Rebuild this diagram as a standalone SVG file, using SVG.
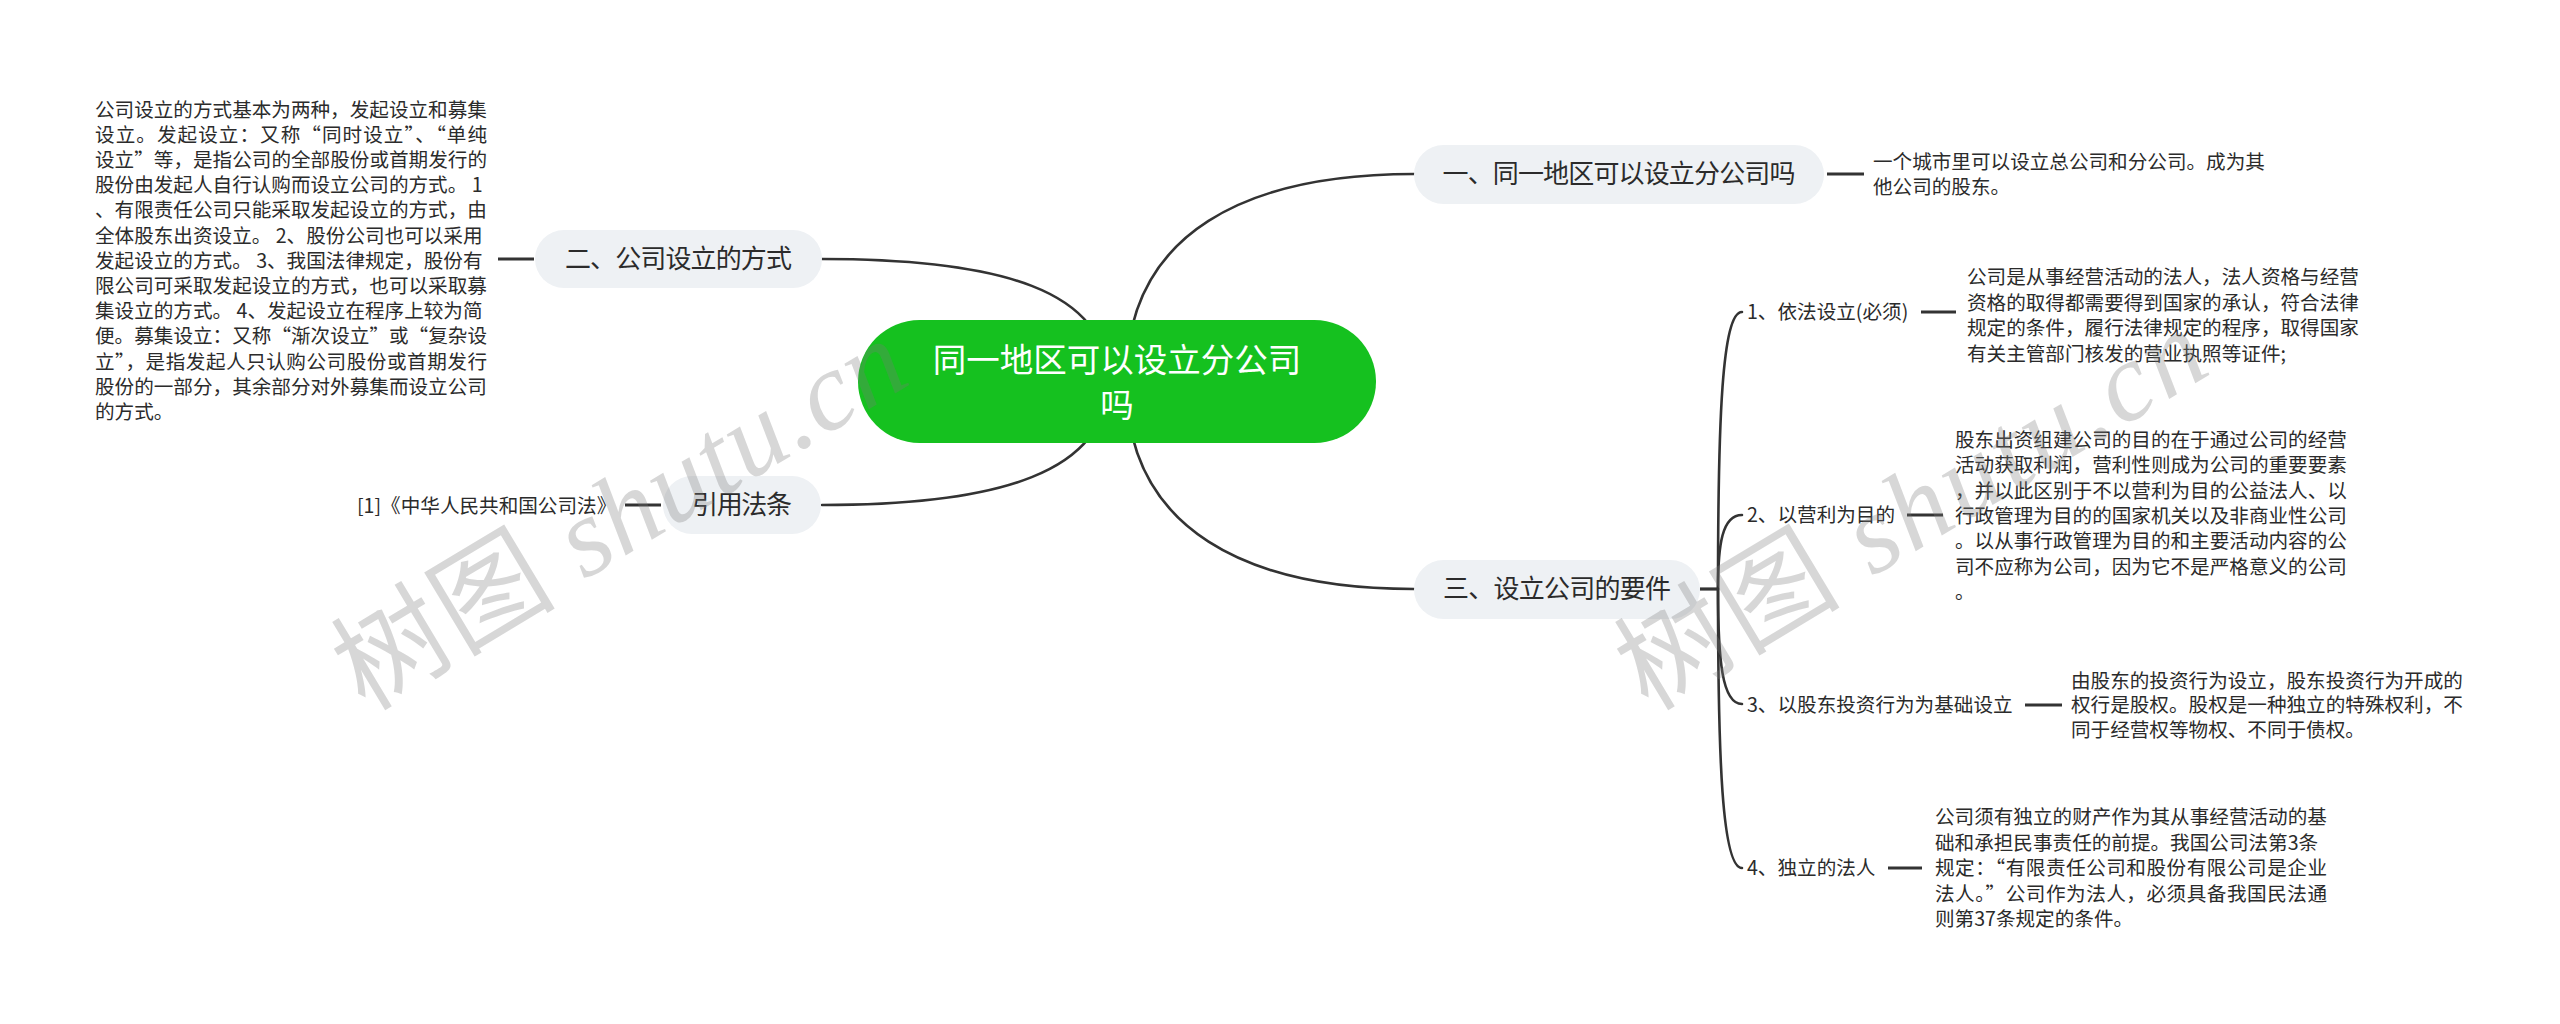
<svg xmlns="http://www.w3.org/2000/svg" width="2560" height="1024" viewBox="0 0 2560 1024">
<style>
.bg{fill:#ffffff}
.curve{fill:none;stroke:#333333;stroke-width:2.6;stroke-linecap:round}
.stub{fill:none;stroke:#333333;stroke-width:3.2}
.root{fill:#15c11f}
.rootText{font-family:"Noto Sans CJK SC","Noto Sans",sans-serif;font-size:33.5px;fill:#ffffff;text-anchor:middle}
.pill{fill:#eef1f4}
.l1{font-family:"Noto Sans CJK SC","Noto Sans",sans-serif;font-size:26px;fill:#2b2b2b;text-anchor:middle}
.leaf{font-family:"Noto Sans CJK SC","Noto Sans",sans-serif;font-size:19.6px;fill:#2b2b2b}
.wm{font-size:112px;fill:#7a7a7a;fill-opacity:0.3}
.wmcjk{font-family:"Noto Sans CJK SC",sans-serif}
.wmlat{font-family:"Liberation Serif",serif;font-style:italic}
</style>
<rect class="bg" x="0" y="0" width="2560" height="1024"/>

<g id="connectors">
  <path class="curve" d="M1126,381 C1126,230 1250,174 1414,174"/>
  <path class="curve" d="M1126,381 C1126,532 1250,589 1414,589"/>
  <path class="curve" d="M1108,381 C1108,290 1000,259 822,259"/>
  <path class="curve" d="M1108,381 C1108,472 1000,505 822,505"/>
  <line class="stub" x1="1827" y1="174" x2="1864" y2="174"/>
  <line class="stub" x1="498" y1="259" x2="534" y2="259"/>
  <line class="stub" x1="625" y1="505" x2="661" y2="505"/>
  <line class="stub" x1="1700" y1="589" x2="1719" y2="589"/>
  <path class="curve" d="M1718,589 C1718,420 1722,312 1742,312"/>
  <path class="curve" d="M1718,589 C1718,545 1722,515 1742,515"/>
  <path class="curve" d="M1718,589 C1718,660 1722,704 1742,704"/>
  <path class="curve" d="M1718,589 C1718,758 1722,868 1742,868"/>
  <line class="stub" x1="1921" y1="312" x2="1956" y2="312"/>
  <line class="stub" x1="1907" y1="515" x2="1943" y2="515"/>
  <line class="stub" x1="2025" y1="705" x2="2062" y2="705"/>
  <line class="stub" x1="1888" y1="868" x2="1922" y2="868"/>
</g>

<g id="root">
  <rect class="root" x="858" y="320" width="518" height="123" rx="61.5"/>
  <text class="rootText" x="1117" y="372">同一地区可以设立分公司</text>
  <text class="rootText" x="1117" y="417">吗</text>
</g>

<g id="n1">
  <rect class="pill" x="1414" y="145" width="410" height="59" rx="29.5"/>
  <text class="l1" x="1619" y="183" textLength="353" lengthAdjust="spacing">一、同一地区可以设立分公司吗</text>
</g>
<g id="n1-leaf">
  <text class="leaf" x="1873" y="169">一个城市里可以设立总公司和分公司。成为其</text>
  <text class="leaf" x="1873" y="194">他公司的股东。</text>
</g>

<g id="n2">
  <rect class="pill" x="535" y="230" width="287" height="58" rx="29"/>
  <text class="l1" x="678.5" y="268" textLength="227" lengthAdjust="spacing">二、公司设立的方式</text>
</g>
<g id="n2-leaf">
  <text class="leaf" x="95" y="116.5">公司设立的方式基本为两种，发起设立和募集</text>
  <text class="leaf" x="95" y="141.7" textLength="392" lengthAdjust="spacing">设立。发起设立：又称“同时设立”、“单纯</text>
  <text class="leaf" x="95" y="166.9" textLength="392" lengthAdjust="spacing">设立”等，是指公司的全部股份或首期发行的</text>
  <text class="leaf" x="95" y="192.1">股份由发起人自行认购而设立公司的方式。 1</text>
  <text class="leaf" x="95" y="217.3">、有限责任公司只能采取发起设立的方式，由</text>
  <text class="leaf" x="95" y="242.5">全体股东出资设立。 2、股份公司也可以采用</text>
  <text class="leaf" x="95" y="267.7">发起设立的方式。 3、我国法律规定，股份有</text>
  <text class="leaf" x="95" y="292.9">限公司可采取发起设立的方式，也可以采取募</text>
  <text class="leaf" x="95" y="318.1">集设立的方式。 4、发起设立在程序上较为简</text>
  <text class="leaf" x="95" y="343.3" textLength="392" lengthAdjust="spacing">便。募集设立：又称“渐次设立”或“复杂设</text>
  <text class="leaf" x="95" y="368.5" textLength="392" lengthAdjust="spacing">立”，是指发起人只认购公司股份或首期发行</text>
  <text class="leaf" x="95" y="393.7">股份的一部分，其余部分对外募集而设立公司</text>
  <text class="leaf" x="95" y="418.9">的方式。</text>
</g>

<g id="n4">
  <rect class="pill" x="663" y="476" width="158" height="58" rx="29"/>
  <text class="l1" x="742" y="514" textLength="100" lengthAdjust="spacing">引用法条</text>
</g>
<g id="n4-leaf">
  <text class="leaf" x="357" y="513">[1]《中华人民共和国公司法》</text>
</g>

<g id="n3">
  <rect class="pill" x="1414" y="560" width="286" height="59" rx="29.5"/>
  <text class="l1" x="1557" y="598" textLength="228" lengthAdjust="spacing">三、设立公司的要件</text>
</g>

<g id="c1">
  <text class="leaf" x="1747" y="319">1、依法设立(必须)</text>
</g>
<g id="c1-leaf">
  <text class="leaf" x="1967" y="284">公司是从事经营活动的法人，法人资格与经营</text>
  <text class="leaf" x="1967" y="309.5">资格的取得都需要得到国家的承认，符合法律</text>
  <text class="leaf" x="1967" y="335">规定的条件，履行法律规定的程序，取得国家</text>
  <text class="leaf" x="1967" y="360.5">有关主管部门核发的营业执照等证件;</text>
</g>

<g id="c2">
  <text class="leaf" x="1747" y="522">2、以营利为目的</text>
</g>
<g id="c2-leaf">
  <text class="leaf" x="1955" y="447">股东出资组建公司的目的在于通过公司的经营</text>
  <text class="leaf" x="1955" y="472.3">活动获取利润，营利性则成为公司的重要要素</text>
  <text class="leaf" x="1955" y="497.6">，并以此区别于不以营利为目的公益法人、以</text>
  <text class="leaf" x="1955" y="522.9">行政管理为目的的国家机关以及非商业性公司</text>
  <text class="leaf" x="1955" y="548.2">。以从事行政管理为目的和主要活动内容的公</text>
  <text class="leaf" x="1955" y="573.5">司不应称为公司，因为它不是严格意义的公司</text>
  <text class="leaf" x="1955" y="598.8">。</text>
</g>

<g id="c3">
  <text class="leaf" x="1747" y="712">3、以股东投资行为为基础设立</text>
</g>
<g id="c3-leaf">
  <text class="leaf" x="2071" y="687.5">由股东的投资行为设立，股东投资行为开成的</text>
  <text class="leaf" x="2071" y="712">权行是股权。股权是一种独立的特殊权利，不</text>
  <text class="leaf" x="2071" y="736.5">同于经营权等物权、不同于债权。</text>
</g>

<g id="c4">
  <text class="leaf" x="1747" y="875">4、独立的法人</text>
</g>
<g id="c4-leaf">
  <text class="leaf" x="1935" y="824">公司须有独立的财产作为其从事经营活动的基</text>
  <text class="leaf" x="1935" y="849.5">础和承担民事责任的前提。我国公司法第3条</text>
  <text class="leaf" x="1935" y="875" textLength="392" lengthAdjust="spacing">规定：“有限责任公司和股份有限公司是企业</text>
  <text class="leaf" x="1935" y="900.5" textLength="392" lengthAdjust="spacing">法人。”公司作为法人，必须具备我国民法通</text>
  <text class="leaf" x="1935" y="926">则第37条规定的条件。</text>
</g>

<g id="watermark">
  <text class="wm" transform="translate(365,712) rotate(-31)" textLength="640" lengthAdjust="spacing"><tspan class="wmcjk">树图</tspan><tspan class="wmlat"> shutu.cn</tspan></text>
  <text class="wm" transform="translate(1648,712) rotate(-31)" textLength="660" lengthAdjust="spacing"><tspan class="wmcjk">树图</tspan><tspan class="wmlat"> shutu.cn</tspan></text>
</g>
</svg>
